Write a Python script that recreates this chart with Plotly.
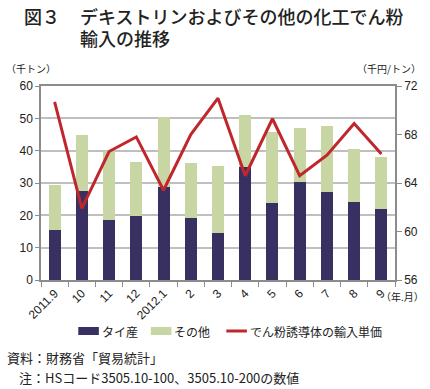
import plotly.graph_objects as go

months = ["2011.9", "10", "11", "12", "2012.1", "2", "3", "4", "5", "6", "7", "8", "9"]
thai = [15.5, 27.5, 18.6, 19.9, 28.7, 19.1, 14.4, 35.0, 23.9, 30.4, 27.2, 24.0, 22.0]
total = [29.5, 45.0, 39.8, 36.4, 50.3, 36.1, 35.3, 50.9, 45.7, 47.0, 47.6, 40.4, 38.0]
other = [round(t - a, 1) for t, a in zip(total, thai)]
price = [70.7, 61.9, 66.6, 67.8, 63.4, 68.0, 71.0, 64.6, 69.3, 64.6, 66.3, 68.9, 66.4]

NAVY = "#383061"
GREEN = "#c7d6a2"
RED = "#c0272d"
GRID = "#bfbfbf"
AX = "#8c8c8c"
JP = "Noto Sans CJK JP"

W, H = 430, 389
L, R, T, B = 41, 28, 86, 109
pw, ph = W - L - R, H - T - B

def px(x):
    return (x - L) / pw

def py(y):
    return (H - B - y) / ph

fig = go.Figure()
fig.add_trace(go.Bar(x=months, y=thai, name="タイ産", marker=dict(color=NAVY, line=dict(width=0)),
                     width=0.44, showlegend=False))
fig.add_trace(go.Bar(x=months, y=other, name="その他", marker=dict(color=GREEN, line=dict(width=0)),
                     width=0.44, showlegend=False))
fig.add_trace(go.Scatter(x=months, y=price, name="でん粉誘導体の輸入単価", mode="lines",
                         line=dict(color=RED, width=3), yaxis="y2", showlegend=False))

fig.update_layout(
    width=W, height=H, barmode="stack",
    margin=dict(l=L, r=R, t=T, b=B),
    paper_bgcolor="white", plot_bgcolor="white",
    font=dict(family=JP, size=12, color="#222"),
    xaxis=dict(type="category", tickangle=-45, showline=True, linecolor=AX, linewidth=1.5,
               mirror=True, ticks="outside", tickson="boundaries", ticklen=5, tickcolor=AX,
               showgrid=False, tickfont=dict(family="Liberation Sans", size=12, color="#222")),
    yaxis=dict(range=[0, 60], dtick=10, showgrid=True, gridcolor=GRID, gridwidth=2,
               showline=True, linecolor=AX, linewidth=1.5, ticks="outside", ticklen=4,
               tickcolor=AX, zeroline=False,
               tickfont=dict(family="Liberation Sans", size=12, color="#222")),
    yaxis2=dict(range=[56, 72], dtick=4, overlaying="y", side="right", showgrid=False,
                showline=True, linecolor=AX, linewidth=1.5, ticks="outside", ticklen=5,
                tickcolor=AX, zeroline=False,
                tickfont=dict(family="Liberation Sans", size=12, color="#222")),
)

ann = []
def text(x, y, s, size=12, anchor="left", family=JP, weight="normal"):
    ann.append(dict(xref="paper", yref="paper", x=px(x), y=py(y), text=s, showarrow=False,
                    xanchor=anchor, yanchor="middle",
                    font=dict(family=family, size=size, color="#222", weight=weight)))

text(22, 16, "図３", size=18, weight=500)
text(79, 16, "デキストリンおよびその他の化工でん粉", size=18, weight=500)
text(79, 38, "輸入の推移", size=18, weight=500)
text(3, 68, "（千トン）", size=10)
text(361, 68, "（千円/トン）", size=10)
text(386, 296, "（年.月）", size=10)
text(101, 331, "タイ産", size=12)
text(175, 331, "その他", size=12)
text(252, 331, "でん粉誘導体の輸入単価", size=12)
text(4, 357, "資料：財務省「貿易統計」", size=13)
text(17, 377, "注：HSコード3505.10-100、3505.10-200の数値", size=13)

shapes = [
    dict(type="rect", xref="paper", yref="paper", x0=px(79), x1=px(100), y0=py(335), y1=py(327),
         fillcolor=NAVY, line=dict(width=0)),
    dict(type="rect", xref="paper", yref="paper", x0=px(153), x1=px(174), y0=py(335), y1=py(327),
         fillcolor=GREEN, line=dict(width=0)),
    dict(type="line", xref="paper", yref="paper", x0=px(230), x1=px(251), y0=py(331), y1=py(331),
         line=dict(color=RED, width=3)),
]
fig.update_layout(annotations=ann, shapes=shapes)

fig.write_html("out.html", config={"displayModeBar": False},
               post_script="document.body.style.margin='0';document.body.style.overflow='hidden';")
